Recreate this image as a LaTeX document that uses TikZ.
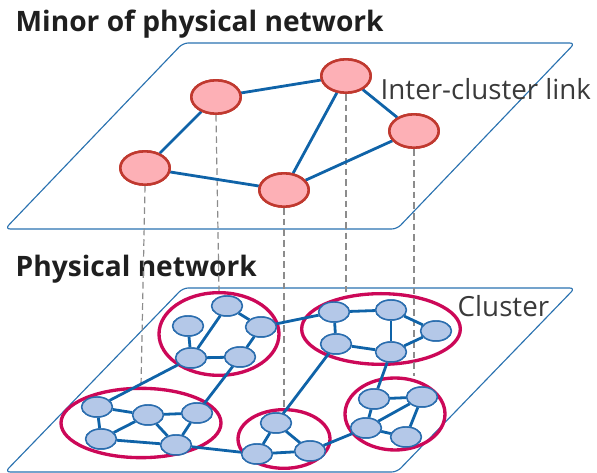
\documentclass[tikz,border=0pt]{standalone}
\usepackage{fontspec}
\setmainfont{Open Sans}
\usetikzlibrary{shapes.geometric}
\definecolor{planeblue}{HTML}{2A72B0}
\definecolor{linkblue}{HTML}{0F63A8}
\definecolor{minorfill}{HTML}{FDB0B6}
\definecolor{minordraw}{HTML}{C0392F}
\definecolor{nodefill}{HTML}{B4C8E8}
\definecolor{nodedraw}{HTML}{2A6DAE}
\definecolor{clusterred}{HTML}{CC0858}
\definecolor{guidegray}{HTML}{8C8C8C}
\definecolor{labelgray}{HTML}{3A3A3A}
\tikzset{
  plane/.style={draw=planeblue, line width=0.85pt, rounded corners=4pt},
  minornode/.style={ellipse, draw=minordraw, fill=minorfill, line width=1.9pt,
    minimum width=37pt, minimum height=25pt, inner sep=0pt},
  physnode/.style={ellipse, draw=nodedraw, fill=nodefill, line width=1.1pt,
    minimum width=23pt, minimum height=15pt, inner sep=0pt},
  clusterring/.style={ellipse, draw=clusterred, line width=2.5pt, inner sep=0pt},
  link/.style={draw=linkblue, line width=2.1pt},
  guide/.style={draw=guidegray, line width=0.9pt, dash pattern=on 5pt off 3pt},
  title/.style={anchor=base west, font=\bfseries\fontsize{21.1}{25}\selectfont, text=black!88},
  caption/.style={anchor=base west, font=\fontsize{20.8}{25}\selectfont, text=labelgray},
}
\begin{document}
\begin{tikzpicture}[x=0.75pt,y=-0.75pt]
\useasboundingbox (0,0) rectangle (597,473);

% the two planes
\draw[plane] (183,43) -- (575,43) -- (397,229) -- (5,229) -- cycle;
\draw[plane] (183,288) -- (575,288) -- (397,472) -- (5,472) -- cycle;

% titles
\node[title] (t1) at (11,32) {Minor of physical network};
\node[title] (t2) at (11,277) {Physical network};

% minor nodes (upper plane)
\node[minornode] (A) at (216,97) {};
\node[minornode] (B) at (145,168) {};
\node[minornode] (C) at (284,190) {};
\node[minornode] (D) at (346,76) {};
\node[minornode] (E) at (414,131) {};

% physical nodes (lower plane)
\node[physnode] (a1) at (227,306) {};
\node[physnode] (a2) at (188,326) {};
\node[physnode] (a3) at (261,327) {};
\node[physnode] (a4) at (191,358) {};
\node[physnode] (a5) at (240,357) {};

\node[physnode] (b1) at (334,312) {};
\node[physnode] (b2) at (391,310) {};
\node[physnode] (b3) at (436,331) {};
\node[physnode] (b4) at (336,344) {};
\node[physnode] (b5) at (391,352) {};

\node[physnode] (c1) at (97,407) {};
\node[physnode] (c2) at (148,415) {};
\node[physnode] (c3) at (197,413) {};
\node[physnode] (c4) at (101,439) {};
\node[physnode] (c5) at (176,445) {};

\node[physnode] (d1) at (276,423) {};
\node[physnode] (d2) at (257,454) {};
\node[physnode] (d3) at (310,451) {};

\node[physnode] (e1) at (374,399) {};
\node[physnode] (e2) at (422,397) {};
\node[physnode] (e3) at (366,428) {};
\node[physnode] (e4) at (406,437) {};

% cluster rings
\node[clusterring, minimum width=90pt, minimum height=62pt] (k1) at (219,334) {};
\node[clusterring, minimum width=119pt, minimum height=53pt] (k2) at (381,329) {};
\node[clusterring, minimum width=120pt, minimum height=52pt] (k3) at (141,423) {};
\node[clusterring, minimum width=69pt, minimum height=44pt] (k4) at (284,439) {};
\node[clusterring, minimum width=75pt, minimum height=54pt] (k5) at (395,414) {};

% vertical guides from each minor node down to its cluster
\draw[guide] (B.south) -- (k3.north);
\draw[guide] (A.south) -- (k1.north);
\draw[guide] (C.south) -- (k4.north);
\draw[guide] (D.south) -- (D.south |- k2.north);
\draw[guide] (E.south) -- (E.south |- k5.north);

% links
\begin{scope}[link]
\draw (A) -- (D);
\draw (A) -- (B);
\draw (B) -- (C);
\draw (C) -- (D);
\draw (C) -- (E);
\draw (D) -- (E);

\draw (a1) -- (a3);
\draw (a1) -- (a4);
\draw (a2) -- (a4);
\draw (a4) -- (a5);
\draw (a5) -- (a3);

\draw (b1) -- (b2);
\draw (b1) -- (b4);
\draw (b2) -- (b5);
\draw (b2) -- (b3);
\draw (b4) -- (b5);
\draw (b5) -- (b3);

\draw (c1) -- (c2);
\draw (c1) -- (c4);
\draw (c2) -- (c3);
\draw (c2) -- (c4);
\draw (c2) -- (c5);
\draw (c3) -- (c5);
\draw (c4) -- (c5);

\draw (d1) -- (d2);
\draw (d1) -- (d3);
\draw (d2) -- (d3);

\draw (e1) -- (e2);
\draw (e1) -- (e3);
\draw (e3) -- (e2);
\draw (e2) -- (e4);
\draw (e3) -- (e4);

% links between clusters
\draw (a3) -- (b1);
\draw (c1) -- (a4);
\draw (c3) -- (a5);
\draw (c5) -- (d2);
\draw (d1) -- (b4);
\draw (d3) -- (e3);
\draw (e1) -- (b5);
\end{scope}

% redraw nodes above the links
\foreach \n in {A,B,C,D,E}
  \node[minornode] at (\n) {};
\foreach \n in {a1,a2,a3,a4,a5,b1,b2,b3,b4,b5,c1,c2,c3,c4,c5,d1,d2,d3,e1,e2,e3,e4}
  \node[physnode] at (\n) {};

% labels
\node[caption] (l1) at (376,100) {Inter-cluster link};
\node[caption] (l2) at (453,317) {Cluster};
\end{tikzpicture}
\end{document}
